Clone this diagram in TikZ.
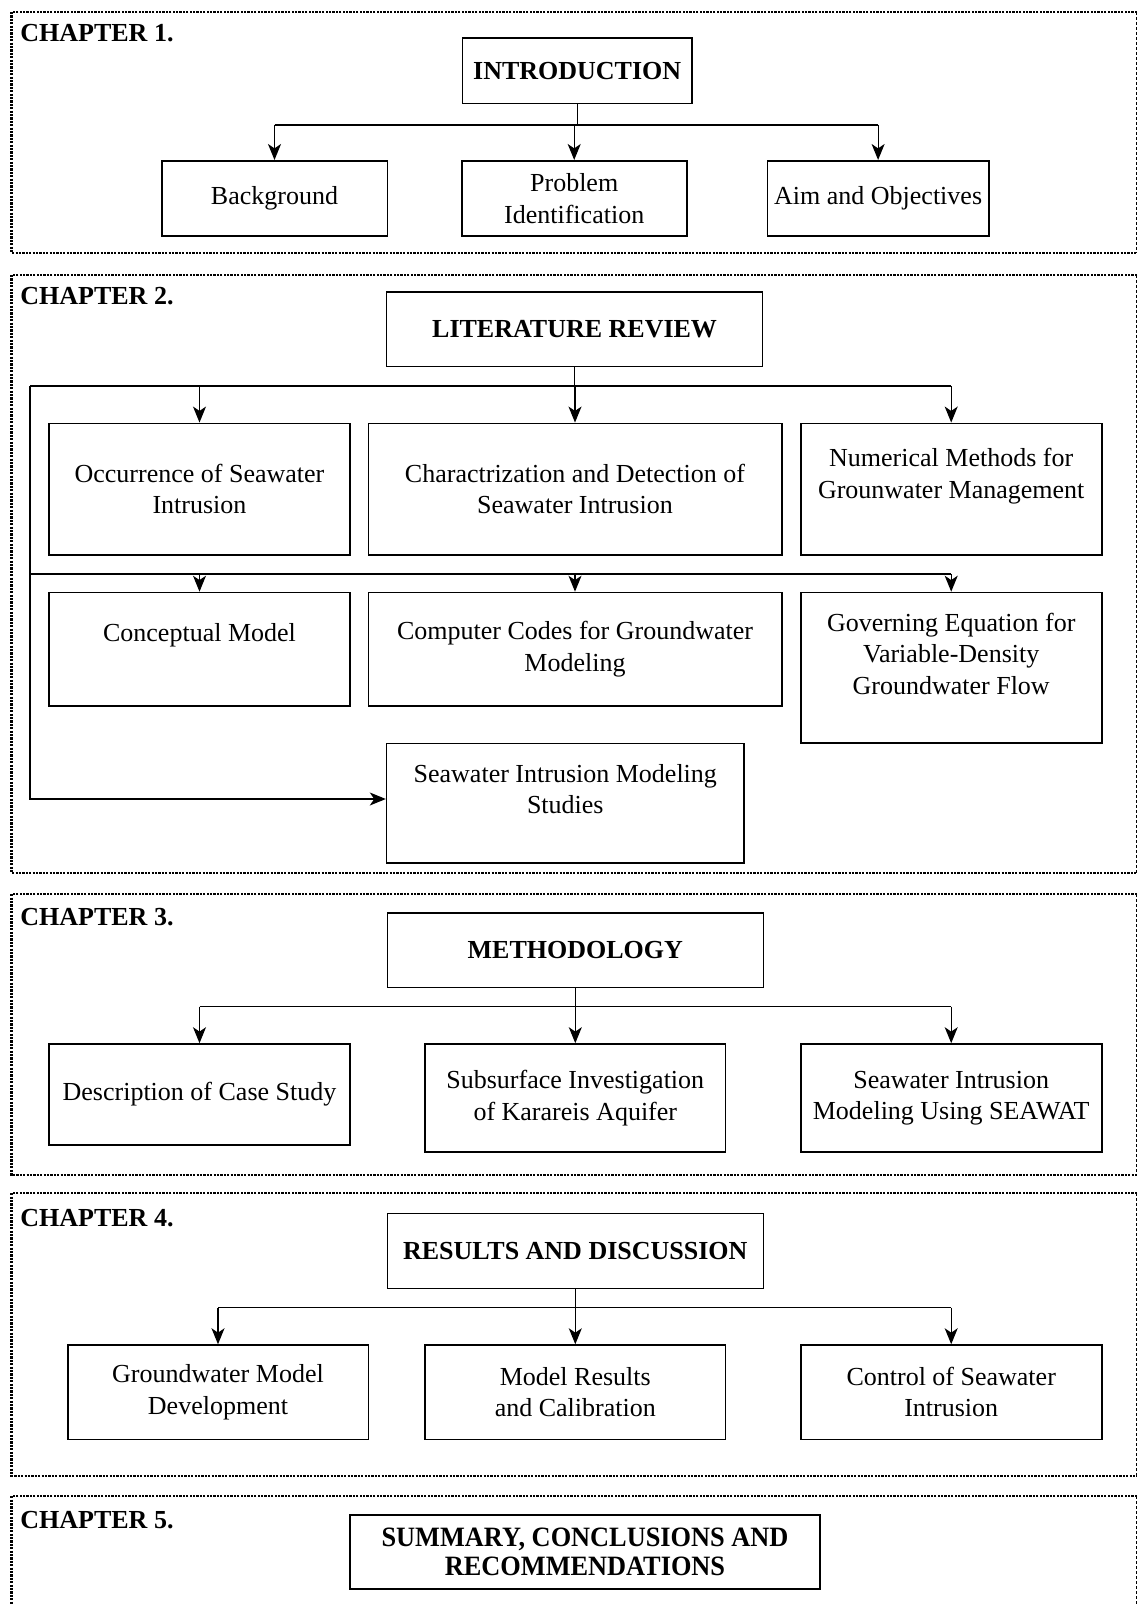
\documentclass[tikz,border=0pt]{standalone}
\usepackage{fontspec}
\setmainfont{Liberation Serif}
\usepackage{tikz}
\usetikzlibrary{arrows.meta,positioning}
\newcommand{\chapfont}{\fontsize{13}{15.75}\selectfont}
\tikzset{
  chapframe/.style={
    line width=1.4pt,
    dash pattern=on 1.1pt off 0.6pt
  },
  chapedge/.style={
    line width=0.45pt,
    dash pattern=on 1.6pt off 0.9pt
  },
  chaplabel/.style={
    anchor=west,
    inner sep=0pt,
    font=\chapfont\bfseries
  },
  headbox/.style={
    rectangle,
    draw,
    line width=0.8pt,
    align=center,
    font=\chapfont\bfseries,
    minimum width=188pt,
    minimum height=37.3pt
  },
  itembox/.style={
    rectangle,
    draw,
    line width=0.8pt,
    align=center,
    font=\chapfont,
    minimum width=150.5pt
  },
  itemtext/.style={
    align=center,
    inner sep=0pt,
    font=\chapfont
  },
  busline/.style={line width=0.6pt},
  flowline/.style={line width=0.6pt,-{Stealth[length=8pt,width=6.5pt,inset=2.2pt]}}
}

\begin{document}
\begin{tikzpicture}[x=0.5pt,y=-0.5pt]
  \useasboundingbox (0,0) rectangle (1138,1604);
  % chapter frames
  \draw[chapframe] (1137,12) -- (11.7,12) -- (11.7,253) -- (1137,253);
  \draw[chapedge] (1136,12) -- (1136,253);
  \draw[chapframe] (1137,275) -- (11.7,275) -- (11.7,873) -- (1137,873);
  \draw[chapedge] (1136,275) -- (1136,873);
  \draw[chapframe] (1137,894) -- (11.7,894) -- (11.7,1175) -- (1137,1175);
  \draw[chapedge] (1136,894) -- (1136,1175);
  \draw[chapframe] (1137,1193) -- (11.7,1193) -- (11.7,1476) -- (1137,1476);
  \draw[chapedge] (1136,1193) -- (1136,1476);
  \draw[chapframe] (1137,1496) -- (11.7,1496) -- (11.7,1604);
  \draw[chapedge] (1136,1496) -- (1136,1604);

  % chapter 1
  \node[chaplabel] (ch1) at (20,33) {CHAPTER 1.};
  \node[headbox, minimum width=114.6pt, minimum height=32.75pt] (intro) at (577.2,70.7) {INTRODUCTION};
  \node[itembox, minimum width=112.8pt, minimum height=37.6pt] (backgr) at (274.5,198.4) {Background};
  \node[itembox, minimum width=112.5pt, minimum height=37.6pt] (probid) at (574.2,198.4) {Problem\\Identification};
  \node[itembox, minimum width=110.5pt, minimum height=37.6pt] (aims) at (878.1,198.4) {Aim and Objectives};
  \coordinate (bus1) at (0,125);
  \draw[busline] (intro.south) -- (intro.south |- bus1);
  \draw[busline] (backgr.north |- bus1) -- (aims.north |- bus1);
  \draw[flowline] (backgr.north |- bus1) -- (backgr.north);
  \draw[flowline] (probid.north |- bus1) -- (probid.north);
  \draw[flowline] (aims.north |- bus1) -- (aims.north);

  % chapter 2
  \node[chaplabel] (ch2) at (20,296) {CHAPTER 2.};
  \node[headbox] (lit) at (574.6,329.3) {LITERATURE REVIEW};
  \node[itembox, minimum height=65.85pt] (occur) at (199.5,489.2) {Occurrence of Seawater\\Intrusion};
  \node[itembox, minimum width=206.7pt, minimum height=65.85pt] (charac) at (575,489.2) {Charactrization and Detection of\\Seawater Intrusion};
  \node[itembox, minimum height=65.85pt] (numer) at (951.2,489.2) {};
  \node[itemtext] (numerT) at ([yshift=6.5pt]numer.center) {Numerical Methods for\\Grounwater Management};
  \node[itembox, minimum height=56.6pt] (concept) at (199.5,649.1) {};
  \node[itemtext] (conceptT) at ([yshift=7pt]concept.center) {Conceptual Model};
  \node[itembox, minimum width=206.7pt, minimum height=56.6pt] (codes) at (575,649.1) {Computer Codes for Groundwater\\Modeling};
  \node[itembox, minimum height=75.25pt] (govern) at (951.2,667.75) {};
  \node[itemtext] (governT) at ([yshift=7pt]govern.center) {Governing Equation for\\Variable-Density\\Groundwater Flow};
  \node[itembox, minimum width=178.7pt, minimum height=59.7pt] (studies) at (565.3,803) {};
  \node[itemtext] (studiesT) at ([yshift=7pt]studies.center) {Seawater Intrusion Modeling\\Studies};
  \coordinate (bus2) at (30,386);
  \coordinate (bus3) at (30,574);
  \draw[busline] (lit.south) -- (lit.south |- bus2);
  \draw[busline] (bus2) -- (numer.north |- bus2);
  \draw[flowline] (occur.north |- bus2) -- (occur.north);
  \draw[flowline] (charac.north |- bus2) -- (charac.north);
  \draw[flowline] (numer.north |- bus2) -- (numer.north);
  \draw[busline] (bus3) -- (govern.north |- bus3);
  \draw[flowline] (concept.north |- bus3) -- (concept.north);
  \draw[flowline] (codes.north |- bus3) -- (codes.north);
  \draw[flowline] (govern.north |- bus3) -- (govern.north);
  \draw[flowline] (bus2) |- ([yshift=2pt]studies.west);

  % chapter 3
  \node[chaplabel] (ch3) at (20,917) {CHAPTER 3.};
  \node[headbox] (method) at (575.3,950) {METHODOLOGY};
  \node[itembox, minimum height=50.5pt] (descr) at (199.5,1094.5) {Description of Case Study};
  \node[itembox, minimum width=150.3pt, minimum height=54pt] (subsurf) at (575.3,1098) {Subsurface Investigation\\of Karareis Aquifer};
  \node[itembox, minimum height=54pt] (seawat) at (951.2,1098) {Seawater Intrusion\\Modeling Using SEAWAT};
  \coordinate (bus4) at (0,1006.7);
  \draw[busline] (method.south) -- (method.south |- bus4);
  \draw[busline] (descr.north |- bus4) -- (seawat.north |- bus4);
  \draw[flowline] (descr.north |- bus4) -- (descr.north);
  \draw[flowline] (subsurf.north |- bus4) -- (subsurf.north);
  \draw[flowline] (seawat.north |- bus4) -- (seawat.north);

  % chapter 4
  \node[chaplabel] (ch4) at (20,1218) {CHAPTER 4.};
  \node[headbox, minimum height=37.5pt] (results) at (575.3,1250.8) {RESULTS AND DISCUSSION};
  \node[itembox, minimum width=150.3pt, minimum height=47.15pt] (gwdev) at (218,1392.2) {Groundwater Model\\Development};
  \node[itembox, minimum width=150.3pt, minimum height=47.15pt] (modres) at (575.3,1392.2) {Model Results\\and Calibration};
  \node[itembox, minimum height=47.15pt] (control) at (951.2,1392.2) {Control of Seawater\\Intrusion};
  \coordinate (bus5) at (0,1307.7);
  \draw[busline] (results.south) -- (results.south |- bus5);
  \draw[busline] (gwdev.north |- bus5) -- (control.north |- bus5);
  \draw[flowline] (gwdev.north |- bus5) -- (gwdev.north);
  \draw[flowline] (modres.north |- bus5) -- (modres.north);
  \draw[flowline] (control.north |- bus5) -- (control.north);

  % chapter 5
  \node[chaplabel] (ch5) at (20,1520) {CHAPTER 5.};
  \node[headbox, minimum width=235pt, minimum height=37pt, font=\fontsize{14}{14.5}\selectfont\bfseries\addfontfeature{FakeStretch=0.94}] (summ) at (585,1552) {SUMMARY, CONCLUSIONS AND\\RECOMMENDATIONS};
\end{tikzpicture}
\end{document}
